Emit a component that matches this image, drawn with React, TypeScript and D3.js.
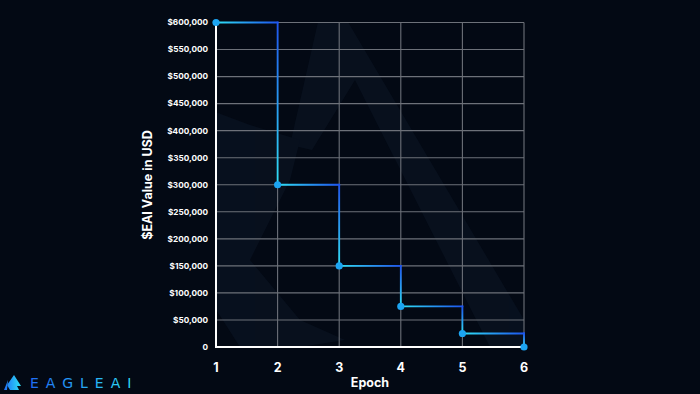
import React from "react";
import * as d3 from "d3";

const epochs = [1, 2, 3, 4, 5, 6];
const values = [600000, 300000, 150000, 75000, 25000, 0];
const yTicks = [0, 50000, 100000, 150000, 200000, 250000, 300000, 350000, 400000, 450000, 500000, 550000, 600000];

const W = 700, H = 394;
const BG = "#030914";
const CYAN = "#2fe0f5";
const BLUE = "#1d55f0";

export default function App() {
  const x = d3.scaleLinear().domain([1, 6]).range([216, 524]);
  const y = d3.scaleLinear().domain([0, 600000]).range([347, 22.5]);
  const fmt = (v: number) => (v === 0 ? "0" : "$" + d3.format(",")(v));

  const pts = epochs.map((e, i) => [x(e), y(values[i])] as [number, number]);
  const segs: { x1: number; y1: number; x2: number; y2: number }[] = [];
  for (let i = 0; i < pts.length - 1; i++) {
    const [ax, ay] = pts[i];
    const [bx, by] = pts[i + 1];
    segs.push({ x1: ax, y1: ay, x2: bx, y2: ay });
    segs.push({ x1: bx, y1: ay, x2: bx, y2: by });
  }

  return (
    <svg width={W} height={H} style={{ position: "absolute", left: 0, top: 0, background: BG }}
      fontFamily="Inter, 'Open Sans', sans-serif">
      <defs>
        {segs.map((s, i) => (
          <linearGradient key={i} id={`g${i}`} gradientUnits="userSpaceOnUse"
            x1={s.x1} y1={s.y1} x2={s.x2 + (s.x1 === s.x2 ? 0.001 : 0)} y2={s.y2}>
            <stop offset="0%" stopColor={s.x1 === s.x2 ? BLUE : CYAN} />
            <stop offset="100%" stopColor={s.x1 === s.x2 ? CYAN : BLUE} />
          </linearGradient>
        ))}
        <linearGradient id="logo" x1="0" x2="1" y1="0" y2="0">
          <stop offset="0%" stopColor="#1e6cf5" />
          <stop offset="100%" stopColor="#2ee3f5" />
        </linearGradient>
        <clipPath id="plot">
          <rect x={216} y={22} width={308} height={325} />
        </clipPath>
      </defs>
      <rect width={W} height={H} fill={BG} />
      {/* faint watermark */}
      <g clipPath="url(#plot)" fill="#0a1321" opacity={0.75}>
        <path d="M318,22 L348,22 L530,330 L530,347 L490,347 L355,80 L312,150 L290,145 Z" />
        <path d="M210,110 L250,125 L300,140 L290,180 L250,260 L300,320 L345,340 L300,347 L240,347 L210,300 Z" />
      </g>
      {/* grid */}
      {yTicks.filter(t => t > 0).map(t => (
        <line key={t} x1={x(1)} x2={x(6)} y1={y(t)} y2={y(t)} stroke="#6d7179" strokeWidth={1.1} />
      ))}
      {epochs.slice(1).map(e => (
        <line key={e} x1={x(e)} x2={x(e)} y1={y(600000)} y2={y(0)} stroke="#6d7179" strokeWidth={1.1} />
      ))}
      {/* axes */}
      <line x1={x(1)} x2={x(1)} y1={y(600000)} y2={y(0) + 1} stroke="#ffffff" strokeWidth={2} />
      <line x1={x(1) - 1} x2={x(6)} y1={y(0)} y2={y(0)} stroke="#ffffff" strokeWidth={2} />
      {/* tick labels */}
      {yTicks.map(t => (
        <text key={t} x={208} y={y(t)} dy="0.35em" textAnchor="end" fill="#ffffff"
          fontSize={8.2} fontWeight={700}>{fmt(t)}</text>
      ))}
      {epochs.map(e => (
        <text key={e} x={x(e)} y={368} dy="0.35em" textAnchor="middle" fill="#ffffff"
          fontSize={12.5} fontWeight={700}>{e}</text>
      ))}
      <text x={370} y={383} dy="0.35em" textAnchor="middle" fill="#ffffff" fontSize={12.5} fontWeight={700}>Epoch</text>
      <text transform={`translate(148,185) rotate(-90)`} dy="0.35em" textAnchor="middle" fill="#ffffff"
        fontSize={12.5} fontWeight={700}>$EAI Value in USD</text>
      {/* step line */}
      {segs.map((s, i) => (
        <line key={i} x1={s.x1} y1={s.y1} x2={s.x2} y2={s.y2} stroke={`url(#g${i})`} strokeWidth={1.8}
          strokeLinecap="square" />
      ))}
      {pts.map((p, i) => (
        <circle key={i} cx={p[0]} cy={p[1]} r={3.6} fill="#1ca4f2" />
      ))}
      {/* logo */}
      <path d="M14,375 L21,386 L17,386 L19,390 L10,390 L7,385 Z M8,380 L4,390 L7,390 Z" fill="url(#logo)" />
      <text x={30} y={383.5} dy="0.35em" fill="url(#logo)" fontSize={14} fontWeight={400}
        letterSpacing={7} fontFamily="'DejaVu Sans', sans-serif">EAGLEAI</text>
    </svg>
  );
}
